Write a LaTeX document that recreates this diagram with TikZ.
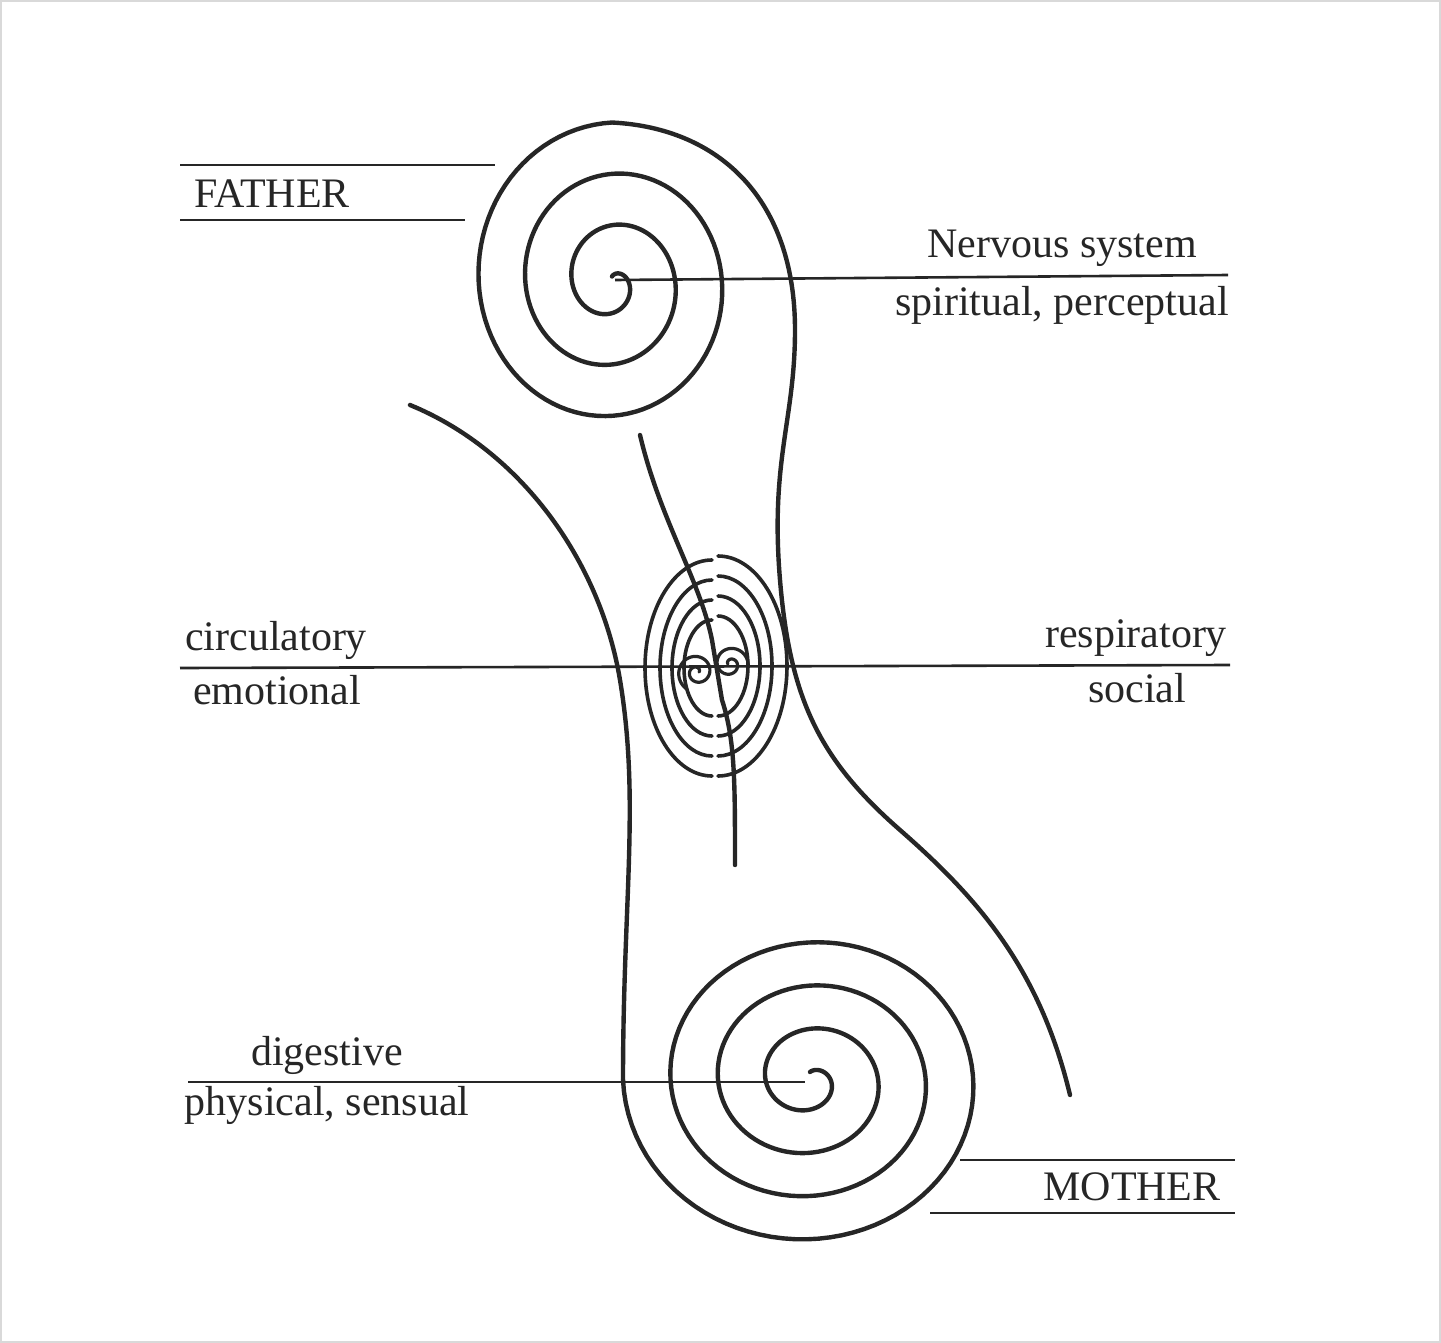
\documentclass[tikz,border=0pt]{standalone}
\usepackage{fontspec}
\setmainfont{Liberation Serif}
\begin{document}
\begin{tikzpicture}[x=0.5pt,y=-0.5pt,
  ink/.style={line width=2.2pt,draw=black!85,line cap=round,line join=round},
  thin/.style={line width=1.3pt,draw=black!85},
  lbl/.style={font=\fontsize{21}{24}\selectfont,text=black!85,inner sep=0pt}]
\useasboundingbox (0,0) rectangle (1441,1343);
\draw[black!15,line width=1pt] (1,1) rectangle (1440,1342);
% top spiral + right body
\draw[ink] plot[domain=0:1080,samples=300,variable=\p] ({612+(5+0.12963*\p)*cos(1170-\p)},{282-1.1*(5+0.12963*\p)*sin(1170-\p)})
  .. controls (720,128) and (795,200) .. (795,330)
  .. controls (795,420) and (770,460) .. (780,580)
  .. controls (790,700) and (820,760) .. (900,830)
  .. controls (980,900) and (1040,970) .. (1070,1095);
% bottom spiral + left body
\draw[ink] (410,405) .. controls (520,450) and (600,560) .. (620,680)
  .. controls (640,800) and (623,900) .. (623,1080);
\draw[ink] plot[domain=0:1350,samples=350,variable=\p] ({810+1.1*(8+0.12*\p)*cos(1530-\p)},{1080-(8+0.12*\p)*sin(1530-\p)});
% centre figure
\draw[ink] (640,435) .. controls (660,520) and (700,580) .. (712,640) -- (722,700) .. controls (735,740) and (735,780) .. (735,865);
\foreach \rx/\ry in {67/108,52/88,40/68,28/48}{
  \draw[ink,line width=1.8pt] (712,668-\ry) arc[start angle=-90,end angle=-270,x radius=\rx,y radius=\ry];
  \draw[ink,line width=1.8pt] (718,668-\ry-4) arc[start angle=-90,end angle=90,x radius=\rx+2,y radius=\ry+2];
}
\draw[ink,line width=1.6pt] plot[domain=0:600,samples=80,variable=\p] ({697+(2+0.03*\p)*cos(\p)},{672-(2+0.03*\p)*sin(\p)});
\draw[ink,line width=1.6pt] plot[domain=0:540,samples=80,variable=\p] ({730-(2+0.03*\p)*cos(\p)},{664-(2+0.03*\p)*sin(\p)});
% lines
\draw[thin] (180,165) -- (495,165);
\draw[thin] (180,220) -- (465,220);
\draw[thin] (615,280) -- (1228,275);
\draw[thin] (180,668) -- (1230,665);
\draw[thin] (188,1082) -- (805,1082);
\draw[thin] (960,1160) -- (1235,1160);
\draw[thin] (930,1213) -- (1235,1213);
% labels
\node[lbl] (fa) at (272,194) {FATHER};
\node[lbl] (ns) at (1062,248) {Nervous system};
\node[lbl] (sp) at (1062,305) {spiritual, perceptual};
\node[lbl] (ci) at (276,640) {circulatory};
\node[lbl] (em) at (277,690) {emotional};
\node[lbl] (re) at (1136,638) {respiratory};
\node[lbl] (so) at (1137,688) {social};
\node[lbl] (di) at (327,1055) {digestive};
\node[lbl] (ph) at (327,1105) {physical, sensual};
\node[lbl] (mo) at (1132,1187) {MOTHER};
\end{tikzpicture}
\end{document}
